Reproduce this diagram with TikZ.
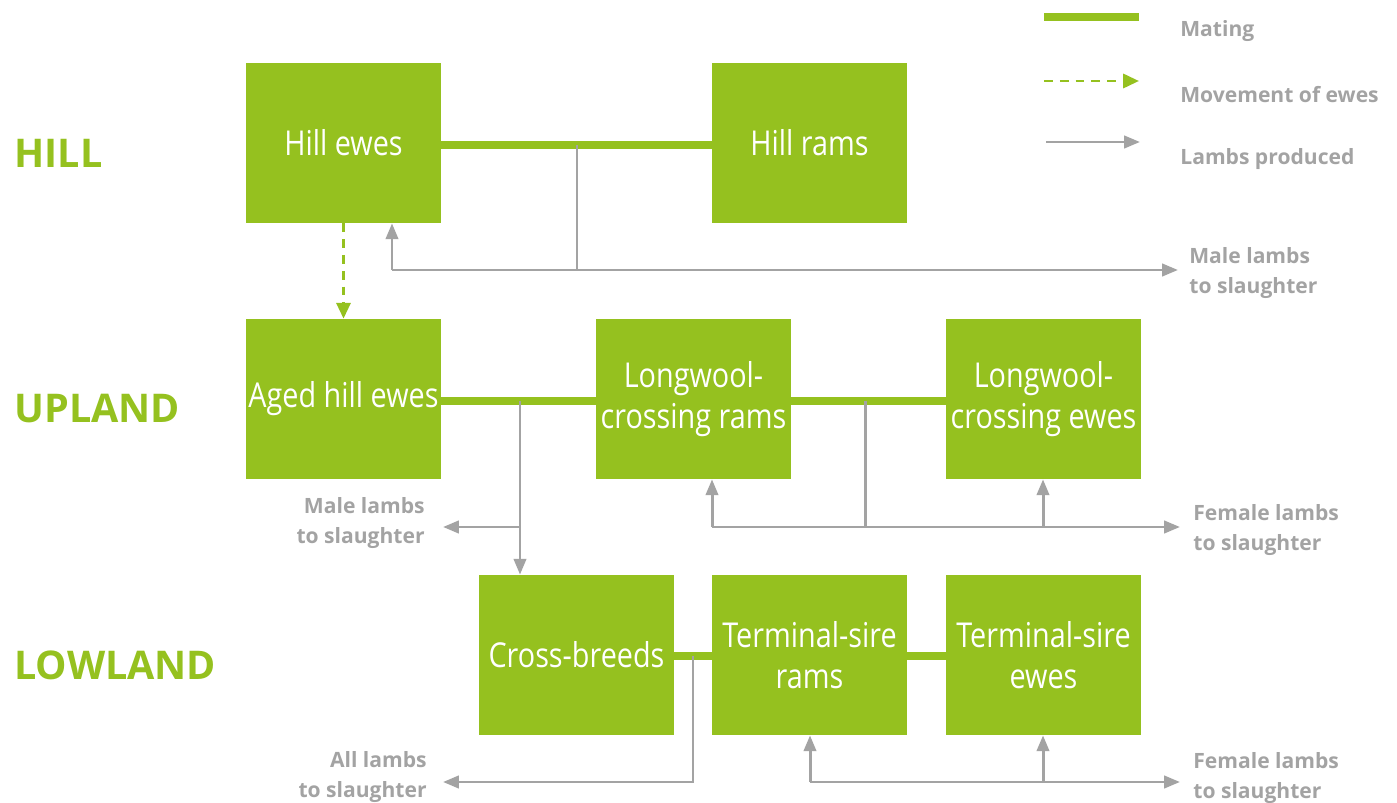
\documentclass[tikz,border=0pt]{standalone}
\usepackage{fontspec}
\setmainfont{Open Sans}
\newfontfamily\boxfont[FakeStretch=0.84]{Open Sans}
\usetikzlibrary{arrows.meta}
\definecolor{lgreen}{HTML}{95C11F}
\definecolor{lgrey}{HTML}{A3A3A3}
\tikzset{
  x=0.02cm, y=-0.02cm,
  breed/.style={fill=lgreen, draw=none, minimum width=3.9cm, minimum height=3.2cm, inner sep=0pt,
    text=white, align=center, font=\boxfont\fontsize{19.5}{23}\selectfont},
  zone/.style={anchor=west, text=lgreen, font=\bfseries\fontsize{22.5}{26}\selectfont, inner sep=0pt},
  mating/.style={draw=lgreen, line width=4pt},
  movement/.style={draw=lgreen, line width=1.7pt, dash pattern=on 5pt off 4pt, -{Triangle[length=9pt,width=8pt]}},
  lamb/.style={draw=lgrey, line width=1.7pt},
  lambarrow/.style={lamb, -{Triangle[length=9pt,width=7pt]}},
  note/.style={text=lgrey, font=\bfseries\fontsize{12}{17}\selectfont, inner sep=0pt},
}
\begin{document}
\begin{tikzpicture}
\useasboundingbox (0,0) rectangle (1397,803);

% zone labels
\node[zone] (hill) at (14,153) {HILL};
\node[zone] (upland) at (14,409) {UPLAND};
\node[zone] (lowland) at (14,665) {LOWLAND};

% boxes
\node[breed] (he) at (343.5,143) {Hill ewes};
\node[breed] (hr) at (809.5,143) {Hill rams};
\node[breed] (ahe) at (343.5,399) {Aged hill ewes};
\node[breed] (lr) at (693.5,399) {Longwool-\\crossing rams};
\node[breed] (le) at (1043.5,399) {Longwool-\\crossing ewes};
\node[breed] (cb) at (576.5,655) {Cross-breeds};
\node[breed] (tr) at (809.5,655) {Terminal-sire\\rams};
\node[breed] (te) at (1043.5,655) {Terminal-sire\\ewes};

% legend
\coordinate (lg1a) at (1044,17); \coordinate (lg1b) at (1139,17);
\coordinate (lg2a) at (1044,81); \coordinate (lg2b) at (1139,81);
\coordinate (lg3a) at (1046,142); \coordinate (lg3b) at (1140,142);
\draw[mating] (lg1a) -- (lg1b);
\draw[movement] (lg2a) -- (lg2b);
\draw[lambarrow] (lg3a) -- (lg3b);
\node[note, anchor=west] (lt1) at (1180,31) {Mating};
\node[note, anchor=west] (lt2) at (1180,95) {Movement of ewes};
\node[note, anchor=west] (lt3) at (1180,159) {Lambs produced};

% hill level
\draw[mating] (he.east |- 0,145) -- (hr.west |- 0,145);
\coordinate (j1) at (577,145);
\coordinate (k1) at (577,270);
\coordinate (h1a) at (392,270);
\coordinate (h1b) at (1178,270);
\draw[lamb] (j1) -- (k1);
\draw[lambarrow] (h1a) -- (h1b);
\draw[lambarrow] (h1a) -- (h1a |- he.south);
\node[note, anchor=west, align=left] (m1) at (1189,273) {Male lambs\\to slaughter};

% movement
\draw[movement] (he.south) -- (ahe.north);

% upland level
\draw[mating] (ahe.east |- 0,401) -- (lr.west |- 0,401);
\draw[mating] (lr.east |- 0,401) -- (le.west |- 0,401);
\coordinate (j2) at (520,401);
\coordinate (k2) at (520,527);
\coordinate (k2l) at (443,527);
\draw[lambarrow] (j2) -- (j2 |- cb.north);
\draw[lambarrow] (k2) -- (k2l);
\node[note, anchor=east, align=right] (m2) at (425,523) {Male lambs\\to slaughter};

\coordinate (j3) at (865,401);
\coordinate (k3) at (865,527);
\coordinate (h3a) at (712,527);
\coordinate (h3b) at (1180,527);
\coordinate (h3c) at (1043,527);
\draw[lamb] (j3) -- (k3);
\draw[lambarrow] (h3a) -- (h3b);
\draw[lambarrow] (h3a) -- (h3a |- lr.south);
\draw[lambarrow] (h3c) -- (h3c |- le.south);
\node[note, anchor=west, align=left] (f1) at (1193,530) {Female lambs\\to slaughter};

% lowland level
\draw[mating] (cb.east |- 0,656) -- (tr.west |- 0,656);
\draw[mating] (tr.east |- 0,656) -- (te.west |- 0,656);
\coordinate (j4) at (693,656);
\coordinate (k4) at (693,782);
\coordinate (k4l) at (443,782);
\draw[lambarrow] (j4) -- (k4) -- (k4l);
\node[note, anchor=east, align=right] (a1) at (427,777) {All lambs\\to slaughter};

\coordinate (h5a) at (810,782);
\coordinate (h5b) at (1180,782);
\coordinate (h5c) at (1043,782);
\draw[lambarrow] (h5a) -- (h5b);
\draw[lambarrow] (h5a) -- (h5a |- tr.south);
\draw[lambarrow] (h5c) -- (h5c |- te.south);
\node[note, anchor=west, align=left] (f2) at (1193,778) {Female lambs\\to slaughter};
\end{tikzpicture}
\end{document}
